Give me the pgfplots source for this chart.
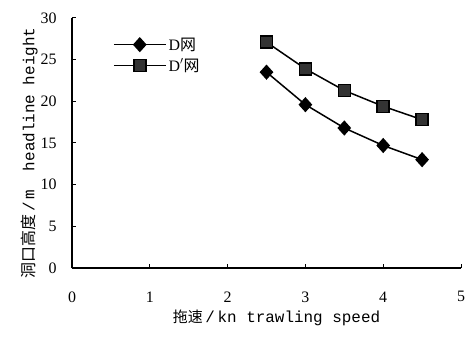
\documentclass[border=0pt]{standalone}
\usepackage{pgfplots}
\pgfplotsset{compat=1.18}
\usepackage{fontspec}
\setmainfont{Liberation Serif}
\setmonofont{Liberation Mono}
\newfontfamily\cjk{Noto Sans CJK SC}
\begin{document}
\begin{tikzpicture}
\path[use as bounding box] (-72bp,-70bp) rectangle (398bp,268bp);
\begin{axis}[
  scale only axis,
  width=389bp, height=250bp,
  xmin=0, xmax=5, ymin=0, ymax=30,
  axis lines*=left,
  axis line style={line width=1.2bp},
  tick align=inside,
  major tick length=4bp,
  tick style={line width=1bp, black},
  xtick={0,1,2,3,4,5},
  ytick={0,5,10,15,20,25,30},
  ticklabel style={font=\fontsize{16}{18}\selectfont},
  /pgf/number format/assume math mode=true,
  xticklabel style={yshift=-20bp},
  yticklabel style={xshift=-12bp},
  xlabel={{\cjk\fontsize{15}{17}\selectfont 拖速}{\fontsize{16}{18}\selectfont\ttfamily\,/\,kn trawling speed}},
  xlabel style={yshift=-1bp, xshift=10bp},
  ylabel={{\cjk\fontsize{16}{18}\selectfont 洞口高度}{\fontsize{16}{18}\selectfont\ttfamily\,/\,m\ \ headline height}},
  ylabel style={yshift=-4bp, xshift=-10bp},
  legend style={draw=none, fill=none, at={(0.105,0.93)}, anchor=north west,
    font=\fontsize{16}{18}\selectfont, row sep=3bp, inner sep=0pt},
  legend cell align=left,
  legend image code/.code={\draw[mark repeat=2,mark phase=2] plot coordinates {(0bp,0bp) (26bp,0bp) (52bp,0bp)};},
]
\addplot[black, line width=1.5bp, mark=diamond*, mark size=6.5bp, mark options={fill=black, solid, xscale=1.2}]
  coordinates {(2.5,23.5) (3,19.6) (3.5,16.8) (4,14.7) (4.5,13.0)};
\addlegendentry{D{\cjk 网}}
\addplot[black, line width=1.5bp, mark=square*, mark size=6bp, mark options={fill=black!80, draw=black, solid}]
  coordinates {(2.5,27.1) (3,23.9) (3.5,21.3) (4,19.4) (4.5,17.8)};
\addlegendentry{D$'${\cjk 网}}
\end{axis}
\end{tikzpicture}
\end{document}
